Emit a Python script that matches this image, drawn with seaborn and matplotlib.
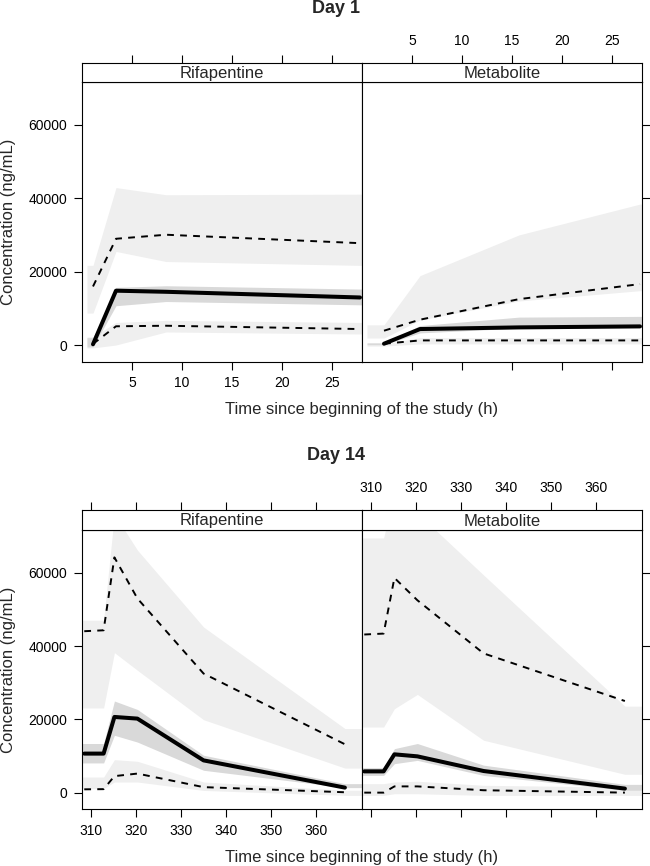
import matplotlib
matplotlib.use("Agg")
import matplotlib.pyplot as plt
import seaborn as sns

sns.set_theme(style="ticks")
plt.rcParams['font.family'] = ['Liberation Sans', 'DejaVu Sans']

days = ["Day 1", "Day 14"]
compounds = ["Rifapentine", "Metabolite"]
y_ticks = [0, 20000, 40000, 60000]
d1_ticks = [5, 10, 15, 20, 25]
d14_ticks = [310, 320, 330, 340, 350, 360]

# Day 1 - rifapentine (observed percentiles + simulated 95% CI bands)
d1_rif_time = [1.1, 3.4, 8.4, 27.8]
d1_rif_p05 = [300, 5100, 5250, 4350]
d1_rif_p50 = [200, 14800, 14500, 12950]
d1_rif_p95 = [15950, 28950, 30050, 27750]
d1_rif_p05_lo = [-800, 0, 3550, 3000]
d1_rif_p05_hi = [2200, 6150, 6700, 6150]
d1_rif_p50_lo = [-500, 10700, 11850, 10950]
d1_rif_p50_hi = [2000, 15700, 16150, 15250]
d1_rif_p95_lo = [8700, 25500, 22750, 21700]
d1_rif_p95_hi = [21700, 42900, 40950, 41100]

# Day 1 - metabolite
d1_met_time = [2.2, 5.8, 15.7, 27.8]
d1_met_p05 = [350, 1250, 1250, 1250]
d1_met_p50 = [350, 4350, 4800, 5070]
d1_met_p95 = [3900, 6900, 12500, 16600]
d1_met_p05_lo = [-300, 300, 300, 300]
d1_met_p05_hi = [300, 2000, 2000, 2000]
d1_met_p50_lo = [100, 3300, 4600, 4800]
d1_met_p50_hi = [600, 5300, 7600, 7800]
d1_met_p95_lo = [1900, 6800, 12000, 14800]
d1_met_p95_hi = [5500, 18900, 30000, 38400]

# Day 14 - both compounds share the sampling times
d14_time = [308.5, 312.8, 315.2, 320.3, 335.0, 366.4]

d14_rif_p05 = [900, 950, 4500, 5200, 1500, 100]
d14_rif_p50 = [10650, 10650, 20650, 20200, 8800, 1370]
d14_rif_p95 = [44050, 44300, 64200, 53000, 32500, 13200]
d14_rif_p05_lo = [1100, 1100, 2900, 2900, 600, -750]
d14_rif_p05_hi = [4250, 4250, 9000, 8550, 2900, 650]
d14_rif_p50_lo = [8100, 8100, 15650, 13800, 6100, 1370]
d14_rif_p50_hi = [13400, 13400, 25000, 22700, 10200, 2450]
d14_rif_p95_lo = [23100, 23100, 38200, 33400, 19900, 6700]
d14_rif_p95_hi = [47050, 47050, 76000, 66200, 45200, 17500]

d14_met_p05 = [0, 0, 1700, 1700, 650, 0]
d14_met_p50 = [5800, 5800, 10450, 9900, 5900, 1100]
d14_met_p95 = [43150, 43400, 58600, 52500, 38000, 25000]
d14_met_p05_lo = [-750, -750, -300, -300, -750, -750]
d14_met_p05_hi = [2450, 2450, 2900, 3100, 2000, 1500]
d14_met_p50_lo = [4700, 4700, 7900, 8800, 4700, 650]
d14_met_p50_hi = [6800, 6800, 12000, 13400, 7500, 2250]
d14_met_p95_lo = [17900, 17900, 22900, 26800, 14300, 5000]
d14_met_p95_hi = [69500, 69500, 82000, 76300, 59400, 23600]

panels = {
    ("Day 1", "Rifapentine"): (d1_rif_time, d1_rif_p05, d1_rif_p50, d1_rif_p95,
                               [(d1_rif_p05_lo, d1_rif_p05_hi), (d1_rif_p95_lo, d1_rif_p95_hi)],
                               (d1_rif_p50_lo, d1_rif_p50_hi)),
    ("Day 1", "Metabolite"): (d1_met_time, d1_met_p05, d1_met_p50, d1_met_p95,
                              [(d1_met_p05_lo, d1_met_p05_hi), (d1_met_p95_lo, d1_met_p95_hi)],
                              (d1_met_p50_lo, d1_met_p50_hi)),
    ("Day 14", "Rifapentine"): (d14_time, d14_rif_p05, d14_rif_p50, d14_rif_p95,
                                [(d14_rif_p05_lo, d14_rif_p05_hi), (d14_rif_p95_lo, d14_rif_p95_hi)],
                                (d14_rif_p50_lo, d14_rif_p50_hi)),
    ("Day 14", "Metabolite"): (d14_time, d14_met_p05, d14_met_p50, d14_met_p95,
                               [(d14_met_p05_lo, d14_met_p05_hi), (d14_met_p95_lo, d14_met_p95_hi)],
                               (d14_met_p50_lo, d14_met_p50_hi)),
}

# x limits and how far the bands run past the first/last bin
xlims = {"Day 1": (0, 28), "Day 14": (308, 370.2)}
band_ends = {"Day 1": (0.5, 28.5), "Day 14": (307.0, 371.0)}
xticks = {"Day 1": d1_ticks, "Day 14": d14_ticks}
ylim = (-4550, 71670)

light = "#efefef"
dark = "#d9d9d9"

W, H = 650, 866
fig = plt.figure(figsize=(6.5, 8.66), dpi=100)


def px_axes(x0, y0, x1, y1):
    return fig.add_axes([x0 / W, 1 - y1 / H, (x1 - x0) / W, (y1 - y0) / H])


def draw_band(ax, t, lo, hi, ends, color):
    tt = [ends[0]] + list(t) + [ends[1]]
    lo2 = [lo[0]] + list(lo) + [lo[-1]]
    hi2 = [hi[0]] + list(hi) + [hi[-1]]
    ax.fill_between(tt, lo2, hi2, color=color, linewidth=0)


def style_frame(a):
    for s in a.spines.values():
        s.set_color("black")
        s.set_linewidth(0.8)
    a.tick_params(direction="out", length=6, width=0.8, color="black",
                  labelsize=10, pad=4.5, labelcolor="black")


rows = {"Day 1": (63, 82, 361.7), "Day 14": (510, 530, 809.3)}
cols = [(82, 362), (362, 642)]

for day in days:
    s_top, p_top, p_bot = rows[day]
    for c, comp in enumerate(compounds):
        x0, x1 = cols[c]
        t, p05, p50, p95, outer, inner = panels[(day, comp)]

        ax = px_axes(x0, p_top, x1, p_bot)
        for lo, hi in outer:
            draw_band(ax, t, lo, hi, band_ends[day], light)
        draw_band(ax, t, inner[0], inner[1], band_ends[day], dark)

        for vals in (p05, p95):
            sns.lineplot(x=t, y=vals, ax=ax, color="black", linewidth=1.4,
                         linestyle=(0, (3.5, 3.2)), estimator=None, sort=False)
        sns.lineplot(x=t, y=p50, ax=ax, color="black", linewidth=2.9,
                     estimator=None, sort=False, solid_capstyle="round",
                     solid_joinstyle="round")

        ax.set_xlim(*xlims[day])
        ax.set_ylim(*ylim)
        ax.set_xticks(xticks[day])
        ax.set_yticks(y_ticks)
        ax.set_xlabel("")
        ax.set_ylabel("")
        style_frame(ax)
        if c == 0:
            ax.tick_params(axis="y", left=True, labelleft=True, right=False)
            ax.tick_params(axis="x", bottom=True, labelbottom=True)
        else:
            ax.tick_params(axis="y", left=False, labelleft=False,
                           right=True, labelright=False)
            ax.tick_params(axis="x", bottom=True, labelbottom=False)

        # strip with the compound name; top axis ticks live on it
        st = px_axes(x0, s_top, x1, p_top)
        st.set_xlim(*xlims[day])
        st.set_ylim(0, 1)
        st.set_yticks([])
        st.set_xticks(xticks[day])
        style_frame(st)
        st.tick_params(axis="x", bottom=False, labelbottom=False, top=True,
                       labeltop=(c == 1))
        st.text(0.5, 0.45, comp, transform=st.transAxes, ha="center",
                va="center", fontsize=12)

    fig.text(336 / W, 1 - (s_top - 54.5) / H, day, ha="center", va="center",
             fontsize=13, fontweight="bold")
    fig.text(8.5 / W, 1 - (p_top + p_bot) / 2 / H, "Concentration (ng/mL)",
             rotation=90, ha="center", va="center", fontsize=12)
    fig.text(362 / W, 1 - (p_bot + 48) / H,
             "Time since beginning of the study (h)",
             ha="center", va="center", fontsize=12)

fig.savefig("out.png", dpi=100)
